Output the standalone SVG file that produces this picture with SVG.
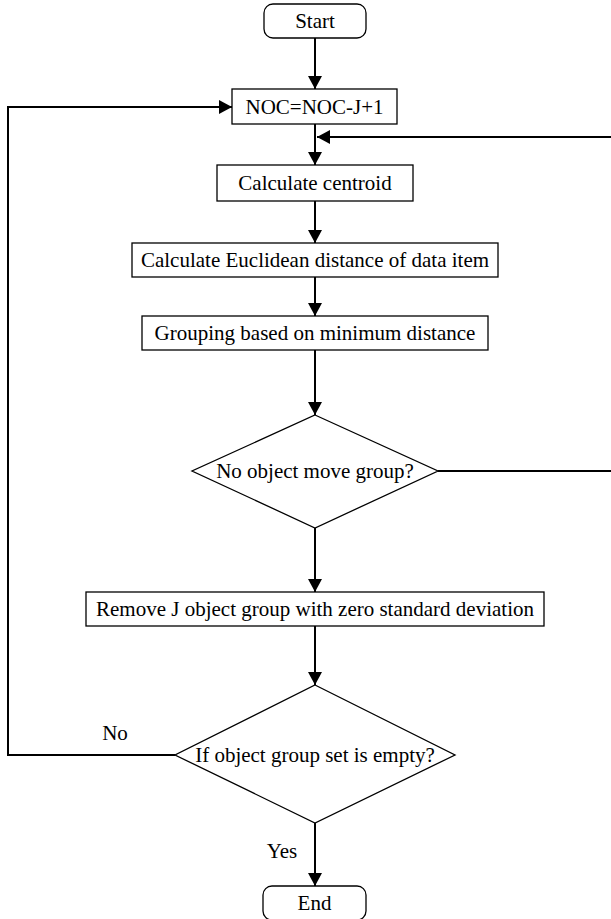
<svg xmlns="http://www.w3.org/2000/svg" width="611" height="919" viewBox="0 0 611 919">
<style>
.box{fill:#fff;stroke:#000;stroke-width:1.3}
.t{font-size:21px;fill:#000;text-anchor:middle}
.c{fill:none;stroke:#000;stroke-width:2}
</style>
<defs>
<marker id="ah" markerUnits="userSpaceOnUse" markerWidth="14" markerHeight="14" refX="13" refY="7" orient="auto">
<path d="M0,0 L13,7 L0,14 Z" fill="#000"/>
</marker>
</defs>
<rect width="611" height="919" fill="#fff"/>
<g font-family="Liberation Serif, Times New Roman, serif">
<g id="connectors">
<line class="c" x1="315" y1="38" x2="315" y2="89" marker-end="url(#ah)"/>
<line class="c" x1="315" y1="124" x2="315" y2="165" marker-end="url(#ah)"/>
<path class="c" d="M438,471 H614 V137 H317" marker-end="url(#ah)"/>
<line class="c" x1="315" y1="201" x2="315" y2="243" marker-end="url(#ah)"/>
<line class="c" x1="315" y1="277" x2="315" y2="316" marker-end="url(#ah)"/>
<line class="c" x1="315" y1="350" x2="315" y2="415" marker-end="url(#ah)"/>
<line class="c" x1="315" y1="528" x2="315" y2="592" marker-end="url(#ah)"/>
<line class="c" x1="315" y1="626" x2="315" y2="685" marker-end="url(#ah)"/>
<path class="c" d="M175,755 H8 V107 H232" marker-end="url(#ah)"/>
<line class="c" x1="315" y1="823" x2="315" y2="886" marker-end="url(#ah)"/>
<text class="t" x="115" y="740">No</text>
<text class="t" x="282" y="858">Yes</text>
</g>
<g id="start">
<rect class="box" x="264" y="4" width="102" height="34" rx="9"/>
<text class="t" x="315" y="28">Start</text>
</g>
<g id="noc">
<rect class="box" x="232" y="89" width="165" height="35"/>
<text class="t" x="314.5" y="114">NOC=NOC-J+1</text>
</g>
<g id="centroid">
<rect class="box" x="217" y="165" width="196" height="36"/>
<text class="t" x="315" y="190">Calculate centroid</text>
</g>
<g id="euclid">
<rect class="box" x="132" y="243" width="366" height="34"/>
<text class="t" x="315" y="267">Calculate Euclidean distance of data item</text>
</g>
<g id="grouping">
<rect class="box" x="142" y="316" width="346" height="34"/>
<text class="t" x="315" y="340">Grouping based on minimum distance</text>
</g>
<g id="decision1">
<polygon class="box" points="315,415 438,471 315,528 192,471"/>
<text class="t" x="315" y="478">No object move group?</text>
</g>
<g id="remove">
<rect class="box" x="86" y="592" width="458" height="34"/>
<text class="t" x="315" y="616">Remove J object group with zero standard deviation</text>
</g>
<g id="decision2">
<polygon class="box" points="315,685 455,755 315,823 175,755"/>
<text class="t" x="315" y="762">If object group set is empty?</text>
</g>
<g id="end">
<rect class="box" x="263" y="886" width="103" height="34" rx="9"/>
<text class="t" x="314.5" y="910">End</text>
</g>
</g>
</svg>
